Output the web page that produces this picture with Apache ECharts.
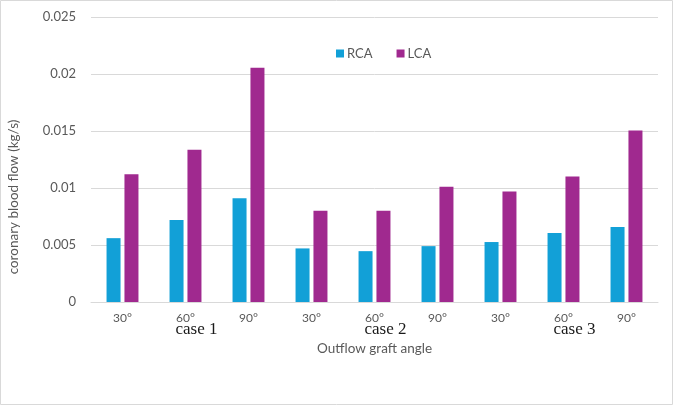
<!DOCTYPE html>
<html>
<head>
<meta charset="utf-8">
<script src="https://cdn.jsdelivr.net/npm/echarts@6/dist/echarts.min.js"></script>
<style>
  html, body { margin: 0; padding: 0; background: #fff; }
  #chart { width: 677px; height: 406px; }
</style>
</head>
<body>
<div id="chart"></div>
<script>
const angles = ['30°', '60°', '90°', '30°', '60°', '90°', '30°', '60°', '90°']
const caseLabels = ['', 'case 1', '', '', 'case 2', '', '', 'case 3', '']
const rca = [0.0056, 0.0072, 0.0091, 0.0047, 0.00446, 0.0049, 0.00526, 0.00605, 0.00658]
const lca = [0.0112, 0.01335, 0.02055, 0.008, 0.008, 0.0101, 0.0097, 0.011, 0.01505]
const yTicks = { min: 0, max: 0.025, interval: 0.005 }

const chart = echarts.init(document.getElementById('chart'))

const option = {
  animation: false,
  textStyle: { fontFamily: 'Lato' },
  graphic: [
    {
      type: 'rect',
      shape: { x: 0.5, y: 0.5, width: 672, height: 404 },
      style: { fill: 'none', stroke: '#d9d9d9', lineWidth: 1 }
    },
    {
      type: 'text',
      x: 14,
      y: 197,
      rotation: Math.PI / 2,
      style: {
        text: 'coronary blood flow (kg/s)',
        fill: '#595959',
        font: '13.5px Lato',
        align: 'center',
        verticalAlign: 'middle'
      }
    }
  ],
  legend: {
    data: ['RCA', 'LCA'],
    left: 331,
    top: 42,
    icon: 'rect',
    itemWidth: 8,
    itemHeight: 8,
    itemGap: 24,
    textStyle: { color: '#595959', fontSize: 13, fontFamily: 'Lato', padding: [0, 0, 0, -2] }
  },
  grid: { left: 91, right: 19, top: 17, bottom: 104 },
  xAxis: [
    {
      type: 'category',
      data: angles,
      axisLine: { lineStyle: { color: '#d9d9d9', width: 1 } },
      axisTick: { show: false },
      axisLabel: { color: '#595959', fontSize: 12, margin: 10, interval: 0 },
      name: 'Outflow graft angle',
      nameLocation: 'middle',
      nameGap: 40,
      nameTextStyle: { color: '#595959', fontSize: 13.5 }
    },
    {
      type: 'category',
      position: 'bottom',
      data: caseLabels,
      axisLine: { show: false },
      axisTick: { show: false },
      axisLabel: {
        interval: 0,
        margin: 19,
        color: '#1a1a1a',
        fontSize: 17,
        fontFamily: 'Liberation Serif',
        padding: [0, 0, 0, 22]
      }
    }
  ],
  yAxis: {
    type: 'value',
    min: yTicks.min,
    max: yTicks.max,
    interval: yTicks.interval,
    axisLine: { show: false },
    axisTick: { show: false },
    axisLabel: { color: '#595959', fontSize: 13, margin: 15 },
    splitLine: { lineStyle: { color: '#d9d9d9', width: 1 } }
  },
  series: [
    {
      name: 'RCA',
      type: 'bar',
      data: rca,
      barWidth: 14,
      barGap: '28%',
      itemStyle: { color: '#12A0D7' }
    },
    {
      name: 'LCA',
      type: 'bar',
      data: lca,
      barWidth: 14,
      barGap: '28%',
      itemStyle: { color: '#A0298F' }
    }
  ]
}

chart.setOption(option)
</script>
</body>
</html>
